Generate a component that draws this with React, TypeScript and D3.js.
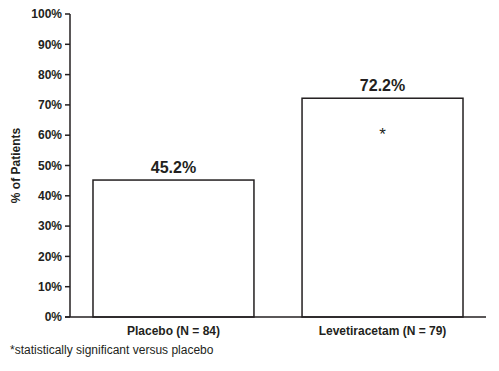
import React from 'react';
import * as d3 from 'd3';

const categories = ['Placebo (N = 84)', 'Levetiracetam (N = 79)'];
const values = [45.2, 72.2];
const valueLabels = ['45.2%', '72.2%'];
const significant = [false, true];
const yTicks = [0, 10, 20, 30, 40, 50, 60, 70, 80, 90, 100];

const W = 499;
const H = 371;
const left = 70;
const right = 486;
const top = 14;
const bottom = 317;
const ink = '#231f20';
const font = 'Liberation Sans, Arial, sans-serif';

const App = () => {
  const x = d3.scaleBand<string>()
    .domain(categories)
    .range([left, right])
    .paddingInner(0.23)
    .paddingOuter(0.11);

  const y = d3.scaleLinear().domain([0, 100]).range([bottom, top]);

  return (
    <svg width={W} height={H} style={{ position: 'absolute', left: 0, top: 0 }} fontFamily={font}>
      <rect width={W} height={H} fill="#fff" />
      {/* y axis */}
      <line x1={left} x2={left} y1={top} y2={bottom} stroke={ink} strokeWidth={1.5} />
      {yTicks.map(t => (
        <g key={t}>
          <line x1={left - 5} x2={left} y1={y(t)} y2={y(t)} stroke={ink} strokeWidth={1.5} />
          <text x={left - 8} y={y(t)} dy="0.35em" textAnchor="end" fontSize={12} fontWeight="bold" fill={ink}>
            {t}%
          </text>
        </g>
      ))}
      <text
        transform={`translate(20, ${(top + bottom) / 2}) rotate(-90)`}
        textAnchor="middle"
        fontSize={12}
        fontWeight="bold"
        fill={ink}
      >
        % of Patients
      </text>
      {/* bars */}
      {categories.map((c, i) => (
        <g key={c}>
          <rect
            x={x(c)}
            y={y(values[i])}
            width={x.bandwidth()}
            height={bottom - y(values[i])}
            fill="#fff"
            stroke={ink}
            strokeWidth={1.5}
          />
          <text
            x={(x(c) as number) + x.bandwidth() / 2}
            y={y(values[i]) - 7}
            textAnchor="middle"
            fontSize={16}
            fontWeight="bold"
            fill={ink}
          >
            {valueLabels[i]}
          </text>
          {significant[i] && (
            <text
              x={(x(c) as number) + x.bandwidth() / 2}
              y={y(values[i]) + 42}
              textAnchor="middle"
              fontSize={17}
              fill={ink}
            >
              *
            </text>
          )}
          <text
            x={(x(c) as number) + x.bandwidth() / 2}
            y={bottom + 18}
            textAnchor="middle"
            fontSize={12}
            fontWeight="bold"
            fill={ink}
          >
            {c}
          </text>
        </g>
      ))}
      {/* x axis */}
      <line x1={left - 5} x2={right} y1={bottom} y2={bottom} stroke={ink} strokeWidth={1.5} />
      <text x={10} y={354} fontSize={12} fill={ink}>
        *statistically significant versus placebo
      </text>
    </svg>
  );
};

export default App;
